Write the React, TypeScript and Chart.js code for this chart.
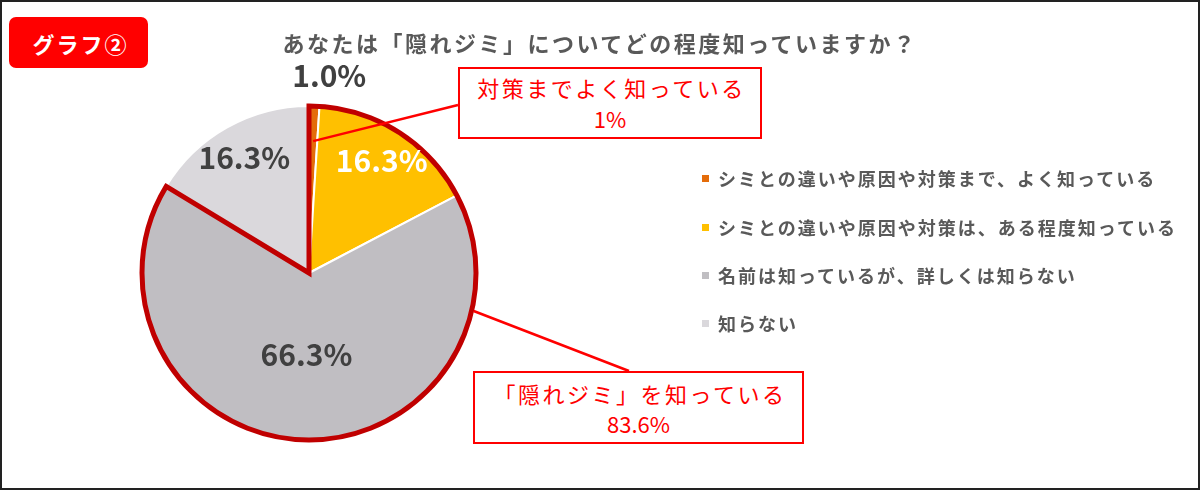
import React, { useEffect, useRef } from 'react';
import Chart from 'chart.js/auto';

// --- data ---
const categories = [
  'シミとの違いや原因や対策まで、よく知っている',
  'シミとの違いや原因や対策は、ある程度知っている',
  '名前は知っているが、詳しくは知らない',
  '知らない',
];
const shares = [1.0, 16.3, 66.3, 16.3];
const sliceColors = ['#E46C0A', '#FFC000', '#C0BEC2', '#DAD8DC'];
const chartTitle = 'あなたは「隠れジミ」についてどの程度知っていますか？';
const badgeText = 'グラフ②';
const calloutTexts = ['対策までよく知っている', '「隠れジミ」を知っている'];
const calloutValues = ['1%', '83.6%'];

const FONT = "'Noto Sans CJK JP', 'Noto Sans', sans-serif";

// layout of the callout boxes (px in the 1200x490 frame)
const BOX1 = { left: 458, top: 67, width: 304, height: 72, lh: 31 };
const BOX2 = { left: 473, top: 371, width: 331, height: 73, lh: 30 };

// label placement per slice, as a fraction of the radius
const labelRadius = [1.18, 0.8, 0.49, 0.79];
const labelColors = ['#404040', '#FFFFFF', '#404040', '#404040'];

const overlayPlugin = {
  id: 'overlay',
  afterDatasetsDraw(chart: any) {
    const ctx: CanvasRenderingContext2D = chart.ctx;
    const arcs = chart.getDatasetMeta(0).data as any[];
    if (!arcs.length) return;
    const cx = arcs[0].x;
    const cy = arcs[0].y;
    const R = arcs[0].outerRadius;

    // red outline round the "knows it" slices (first three)
    const a0 = arcs[0].startAngle;
    const a2 = arcs[2].endAngle;
    ctx.save();
    ctx.beginPath();
    ctx.moveTo(cx, cy);
    ctx.lineTo(cx + R * Math.cos(a0), cy + R * Math.sin(a0));
    ctx.arc(cx, cy, R, a0, a2);
    ctx.closePath();
    ctx.lineWidth = 5;
    ctx.lineJoin = 'miter';
    ctx.strokeStyle = '#C00000';
    ctx.stroke();

    // leader lines to the callout boxes
    const mid0 = (arcs[0].startAngle + arcs[0].endAngle) / 2;
    ctx.beginPath();
    ctx.moveTo(cx + 0.79 * R * Math.cos(mid0), cy + 0.79 * R * Math.sin(mid0));
    ctx.lineTo(BOX1.left, 105);
    const edgeAng = (13 * Math.PI) / 180;
    ctx.moveTo(cx + (R + 2) * Math.cos(edgeAng), cy + (R + 2) * Math.sin(edgeAng));
    ctx.lineTo(629, BOX2.top);
    ctx.lineWidth = 2.5;
    ctx.strokeStyle = '#FF0000';
    ctx.stroke();

    // percentage labels
    ctx.font = `bold 30px ${FONT}`;
    ctx.textAlign = 'center';
    ctx.textBaseline = 'middle';
    arcs.forEach((arc, i) => {
      const mid = (arc.startAngle + arc.endAngle) / 2;
      const r = labelRadius[i] * R;
      const dx = i === 0 ? 14 : 0;
      ctx.fillStyle = labelColors[i];
      ctx.fillText(shares[i].toFixed(1) + '%', cx + r * Math.cos(mid) + dx, cy + r * Math.sin(mid));
    });
    ctx.restore();
  },
};

const Callout: React.FC<{ box: typeof BOX1; text: string; value: string }> = ({ box, text, value }) => (
  <div
    style={{
      position: 'absolute',
      left: box.left,
      top: box.top,
      width: box.width,
      height: box.height,
      boxSizing: 'border-box',
      border: '2px solid #FF0000',
      background: '#fff',
      display: 'flex',
      flexDirection: 'column',
      justifyContent: 'center',
      alignItems: 'center',
      color: '#FF0000',
      fontFamily: FONT,
      fontSize: 22,
      lineHeight: `${box.lh}px`,
    }}
  >
    <div style={{ letterSpacing: '2.5px', paddingLeft: 3 }}>{text}</div>
    <div>{value}</div>
  </div>
);

const App: React.FC = () => {
  const canvasRef = useRef<HTMLCanvasElement>(null);
  const chartRef = useRef<Chart | null>(null);

  useEffect(() => {
    const ctx = canvasRef.current?.getContext('2d');
    if (!ctx) return;
    if (chartRef.current) chartRef.current.destroy();
    chartRef.current = new Chart(ctx, {
      type: 'pie',
      data: {
        labels: categories,
        datasets: [
          {
            data: shares,
            backgroundColor: sliceColors,
            borderColor: '#FFFFFF',
            borderWidth: 2,
            hoverOffset: 0,
          },
        ],
      },
      options: {
        responsive: false,
        animation: false,
        layout: { padding: { left: 141, right: 723, top: 104, bottom: 48 } },
        plugins: {
          legend: { display: false },
          tooltip: { enabled: false },
        },
      },
      plugins: [overlayPlugin],
    });
    return () => {
      chartRef.current?.destroy();
      chartRef.current = null;
    };
  }, []);

  const legendY = [178, 227, 275, 323];

  return (
    <div style={{ position: 'absolute', left: 0, top: 0, width: 1200, height: 490, background: '#fff', overflow: 'hidden' }}>
      <canvas ref={canvasRef} width={1200} height={490} style={{ position: 'absolute', left: 0, top: 0, width: 1200, height: 490 }} />

      {/* badge */}
      <div
        style={{
          position: 'absolute',
          left: 9,
          top: 17,
          width: 139,
          height: 51,
          background: '#FF0000',
          borderRadius: 7,
          color: '#fff',
          fontFamily: FONT,
          fontWeight: 'bold',
          fontSize: 22,
          letterSpacing: '2px',
          paddingLeft: 4,
          boxSizing: 'border-box',
          display: 'flex',
          alignItems: 'center',
          justifyContent: 'center',
        }}
      >
        {badgeText}
      </div>

      {/* title */}
      <div
        style={{
          position: 'absolute',
          left: 0,
          top: 28,
          width: 1200,
          textAlign: 'center',
          fontFamily: FONT,
          fontWeight: 'bold',
          fontSize: 22,
          lineHeight: '28px',
          letterSpacing: '2.5px',
          color: '#595959',
        }}
      >
        {chartTitle}
      </div>

      {/* legend */}
      {categories.map((c, i) => (
        <div
          key={c}
          style={{
            position: 'absolute',
            left: 702,
            top: legendY[i] - 14,
            height: 28,
            display: 'flex',
            alignItems: 'center',
            fontFamily: FONT,
            fontWeight: 'bold',
            fontSize: 18,
            letterSpacing: '2px',
            color: '#595959',
            whiteSpace: 'nowrap',
          }}
        >
          <span style={{ display: 'inline-block', width: 7, height: 7, background: sliceColors[i], marginRight: 9 }} />
          {c}
        </div>
      ))}

      <Callout box={BOX1} text={calloutTexts[0]} value={calloutValues[0]} />
      <Callout box={BOX2} text={calloutTexts[1]} value={calloutValues[1]} />

      {/* outer frame */}
      <div style={{ position: 'absolute', left: 0, top: 0, width: 1200, height: 490, boxSizing: 'border-box', border: '2px solid #222', pointerEvents: 'none' }} />
    </div>
  );
};

export default App;
